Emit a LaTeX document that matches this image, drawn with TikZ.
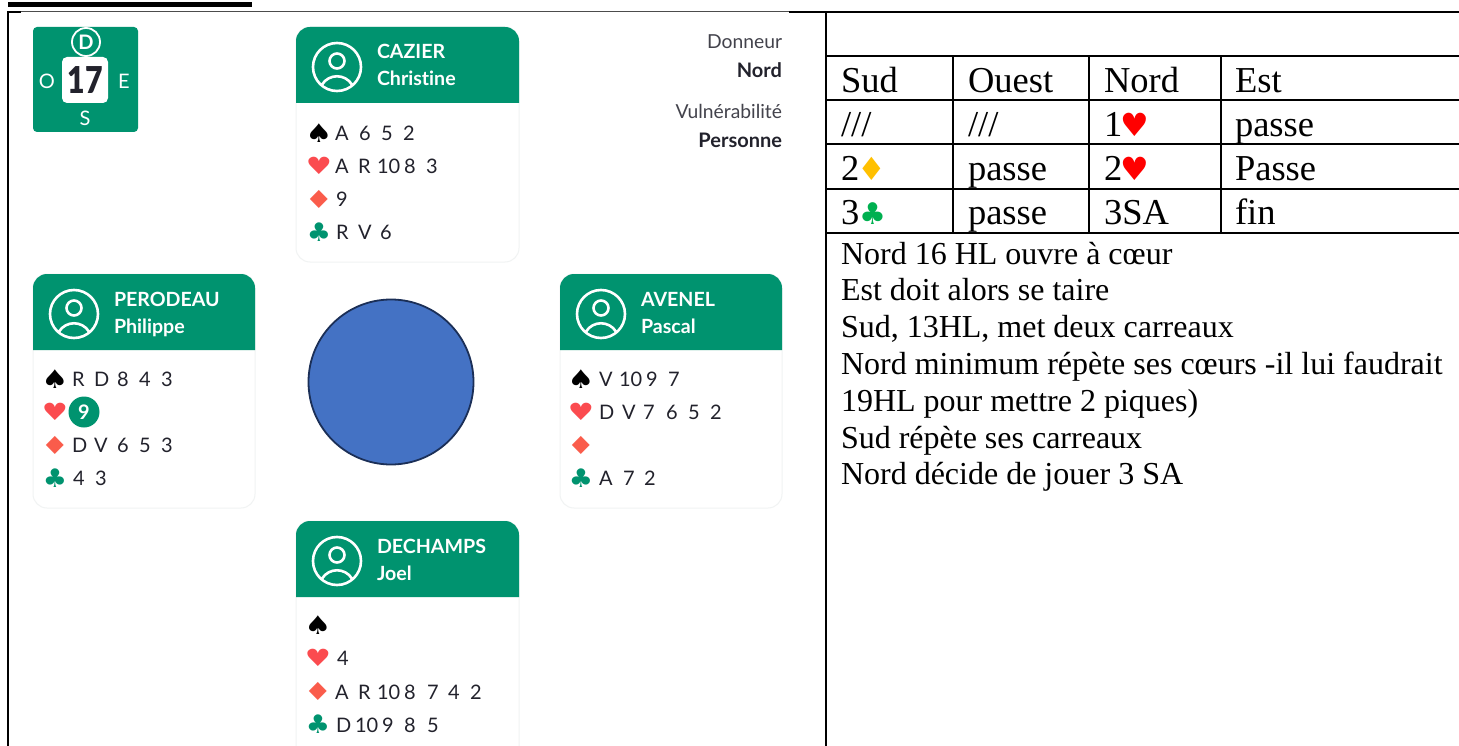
\documentclass[tikz,border=0pt]{standalone}
\usepackage{fontspec}
\setmainfont{Liberation Serif}
\newfontfamily\uifont[Ligatures=NoCommon]{Lato}
\newfontfamily\uiblack{Lato Black}
\newfontfamily\suitfont{DejaVu Sans}
\definecolor{felt}{HTML}{00936F}
\definecolor{ink}{HTML}{22222C}
\definecolor{redsuit}{HTML}{FB4B4F}
\definecolor{redgem}{HTML}{FA5C4B}
\definecolor{cardedge}{HTML}{F1F3F3}
\definecolor{disc}{HTML}{4472C4}
\definecolor{discedge}{HTML}{1B2F57}
\definecolor{tabgold}{HTML}{FFC000}
\definecolor{tabgreen}{HTML}{00B050}
\newcommand{\fs}[1]{\fontsize{#1}{#1}\selectfont}
\tikzset{
  every node/.style={inner sep=0pt,outer sep=0pt},
  rank/.style={anchor=base west,font=\uifont\fs{20},text=ink},
  suit/.style={anchor=center,font=\suitfont\fs{27}},
  headname/.style={anchor=base west,font=\uifont\bfseries\fs{19.6},text=white},
  side/.style={anchor=base east,font=\uifont\fs{19.3},text=ink!85},
  sideb/.style={anchor=base east,font=\uifont\bfseries\fs{20},text=ink},
  tab/.style={anchor=base west,font=\fs{36.5},text=black},
  note/.style={anchor=base west,font=\fs{32},text=black},
  rule/.style={line width=2pt,black},
  avatar/.style={draw=white,line width=2.6pt},
}
\newcommand{\tabh}{\kern-2pt{\suitfont\fs{32}\textcolor{red}{♥}}}
\newcommand{\tabd}{\kern-1.5pt{\suitfont\fs{32}\textcolor{tabgold}{♦}}}
\newcommand{\tabc}{{\suitfont\fs{30}\textcolor{tabgreen}{♣}}}
% seat: id, left, top, bottom, family, first, width
\newcommand{\seat}[7]{%
  \fill[white,draw=cardedge,line width=1pt,rounded corners=14pt] (#2,#3) rectangle (#2+#7,#4);
  \fill[felt] (#2,#3+76) [rounded corners=14pt] -- (#2,#3) -- (#2+#7,#3) [sharp corners] -- (#2+#7,#3+76) -- cycle;
  \draw[avatar] (#2+41,#3+40) circle[radius=24];
  \draw[avatar] (#2+41,#3+34) circle[radius=7.5];
  \draw[avatar] (#2+26,#3+57.6) .. controls (#2+33,#3+46.5) and (#2+49,#3+46.5) .. (#2+56,#3+57.6);
  \node[headname] (#1fam) at (#2+81,#3+32) {#5};
  \node[headname] (#1first) at (#2+81,#3+59) {#6};
}
% suit column: id, x, y of first row
\newcommand{\suits}[3]{%
  \node[suit,text=black,xscale=1.12,yscale=.95] (#1s) at (#2,#3) {♠};
  \node[suit,text=redsuit,xscale=1.08,yscale=.88] (#1h) at (#2,#3+33) {♥};
  \node[suit,text=redgem,xscale=1.18,yscale=.92] (#1d) at (#2,#3+66) {♦};
  \node[suit,text=felt,xscale=1,yscale=.95] (#1c) at (#2,#3+99) {♣};
}
\newcommand{\cards}[3]{%
  \foreach \cx/\ct [count=\ci] in {#3} { \node[rank] (#1\ci) at (\cx,#2+7.5) {\ct}; }
}
\begin{document}
\begin{tikzpicture}[x=1pt,y=-1pt]
\useasboundingbox (0,0) rectangle (1459,746);
\fill[white] (0,0) rectangle (1459,746);

% page rules
\fill[black] (8,2) rectangle (252,7);
\draw[line width=1pt,black!70] (21,12) -- (793,12);
\draw[rule] (7,12) -- (21,12);
\draw[rule] (8,12) -- (8,746);
\draw[rule] (789,12) -- (1459,12);
\draw[rule] (826,12) -- (826,746);
\foreach \ly in {56,100,144,189,233} { \draw[rule] (826,\ly) -- (1459,\ly); }
\foreach \lx in {953,1089,1221} { \draw[rule] (\lx,56) -- (\lx,233); }

% board
\fill[felt,rounded corners=4pt] (33,27) rectangle (138,132);
\fill[white,rounded corners=5pt] (62,57) rectangle (108,103);
\draw[white,line width=1.8pt] (86,42) circle[radius=14];
\node[font=\uifont\bfseries\fs{20},text=white] (dealer) at (86,42) {D};
\node[font=\uiblack\fs{37},text=ink,xscale=.82] (num) at (85,80.5) {17};
\node[font=\uifont\fs{20},text=white] (bo) at (47,81) {O};
\node[font=\uifont\fs{20},text=white] (be) at (124,81) {E};
\node[font=\uifont\fs{20},text=white] (bs) at (85,118) {S};

% side info
\node[side] (don) at (782,49) {Donneur};
\node[sideb] (nord) at (782,78) {Nord};
\node[side] (vul) at (782,119) {Vulnérabilité};
\node[sideb] (pers) at (782,148) {Personne};

% seats
\seat{n}{296}{27}{262}{CAZIER}{Christine}{223}
\seat{w}{33}{274}{508}{PERODEAU}{Philippe}{222}
\seat{e}{560}{274}{508}{AVENEL}{Pascal}{222}
\seat{p}{296}{521}{770}{DECHAMPS}{Joel}{223}

\suits{n}{319}{133}
\suits{w}{55}{379}
\suits{e}{581}{379}
\suits{p}{318}{625}

\cards{na}{133}{335/A,359/6,381/5,403/2}
\cards{nb}{166}{335/A,358/R,377/10,404/8,426/3}
\cards{nc}{199}{336/9}
\cards{nd}{232}{336/R,358/V,380/6}

\cards{wa}{379}{72/R,94/D,117/8,139/4,161/3}
\fill[felt] (84,412) circle[radius=15.5];
\node[font=\uifont\bfseries\fs{20},text=white] (lead) at (84,412) {9};
\cards{wc}{445}{72/D,94/V,117/6,139/5,161/3}
\cards{wd}{478}{73/4,95/3}

\cards{ea}{379}{599/V,619/10,646/9,668/7}
\cards{eb}{412}{599/D,622/V,643/7,666/6,688/5,710/2}
\cards{ed}{478}{599/A,623/7,644/2}

\cards{pb}{658}{337/4}
\cards{pc}{692}{335/A,358/R,377/10,404/8,427/7,448/4,470/2}
\cards{pd}{725}{336/D,355/10,382/9,404/8,427/5}

% disc
\draw[fill=disc,draw=discedge,line width=1.8pt] (391,382) circle[radius=82.5];

% bidding table
\node[tab] (t11) at (841,92.5) {Sud};
\node[tab] (t12) at (968,92.5) {Ouest};
\node[tab] (t13) at (1104,92.5) {Nord};
\node[tab] (t14) at (1235,92.5) {Est};
\node[tab] (t21) at (841,137) {///};
\node[tab] (t22) at (968,137) {///};
\node[tab] (t23) at (1104,137) {1\tabh};
\node[tab] (t24) at (1235,137) {passe};
\node[tab] (t31) at (841,181) {2\tabd};
\node[tab] (t32) at (968,181) {passe};
\node[tab] (t33) at (1104,181) {2\tabh};
\node[tab] (t34) at (1235,181) {Passe};
\node[tab] (t41) at (841,225) {3\tabc};
\node[tab] (t42) at (968,225) {passe};
\node[tab] (t43) at (1104,225) {3SA};
\node[tab] (t44) at (1235,225) {fin};

% comments
\node[note] (c1) at (841,264) {Nord 16 HL ouvre à cœur};
\node[note] (c2) at (841,300) {Est doit alors se taire};
\node[note] (c3) at (841,337) {Sud, 13HL, met deux carreaux};
\node[note] (c4) at (841,374) {Nord minimum répète ses cœurs -il lui faudrait};
\node[note] (c5) at (841,411) {19HL pour mettre 2 piques)};
\node[note] (c6) at (841,448) {Sud répète ses carreaux};
\node[note] (c7) at (841,484) {Nord décide de jouer 3 SA};
\end{tikzpicture}
\end{document}
